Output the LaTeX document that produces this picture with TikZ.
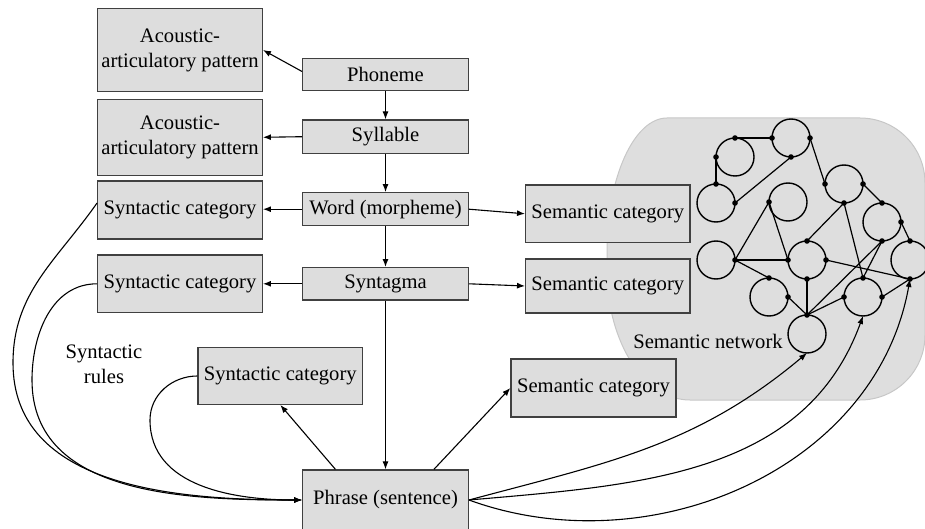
\documentclass[tikz,border=0pt]{standalone}
\usepackage{fontspec}
\setmainfont{Liberation Serif}
\usepackage{tikz}
\usetikzlibrary{calc, positioning, arrows.meta}
\definecolor{box_gray}{rgb}{0.867, 0.867, 0.867}
\definecolor{box_edge}{rgb}{0.25, 0.25, 0.25}
\definecolor{net_gray}{rgb}{0.871, 0.871, 0.871}
\definecolor{net_edge}{rgb}{0.78, 0.78, 0.78}
\tikzset{
  lingbox/.style={draw=box_edge, fill=box_gray, line width=1.3pt, inner sep=1pt, align=center},
  conn/.style={line width=1.1pt, -{Latex[length=8pt,width=6pt]}},
  ring/.style={circle, draw, line width=1.4pt, minimum size=38pt, inner sep=0pt, outer sep=0pt},
}

\begin{document}
\begin{tikzpicture}[x=1pt, y=1pt, font=\fontsize{20.6}{25}\selectfont]
        \useasboundingbox (0,0) rectangle (925,528);
        \clip (0,0) rectangle (925,528);
        \filldraw[fill=net_gray, draw=net_edge, line width=1pt] (667,410) -- (860,410) .. controls (896,410) and (925,381) .. (925,345) -- (925,193) .. controls (925,157) and (896,128) .. (860,128) -- (690,128) .. controls (644,128) and (607,186) .. (607,258) -- (607,278) .. controls (607,350) and (634,410) .. (667,410) -- cycle;

        \node[lingbox, minimum width=164.6pt, minimum height=83.4pt] (ap1) at (180,478) {Acoustic-\\articulatory pattern};
        \node[lingbox, minimum width=164.6pt, minimum height=76pt] (ap2) at (180,390.7) {Acoustic-\\articulatory pattern};
        \node[lingbox, minimum width=164.6pt, minimum height=58pt] (syn1) at (180,318) {Syntactic category};
        \node[lingbox, minimum width=164.6pt, minimum height=57.7pt] (syn2) at (180,244.2) {Syntactic category};
        \node[lingbox, minimum width=164.7pt, minimum height=56.6pt] (syn3) at (280.3,152) {Syntactic category};
        \node[lingbox, minimum width=165.6pt, minimum height=32.4pt] (phoneme) at (385.5,453.5) {Phoneme};
        \node[lingbox, minimum width=165.6pt, minimum height=33.3pt] (syllable) at (385.5,391.3) {Syllable};
        \node[lingbox, minimum width=165.6pt, minimum height=33pt] (word) at (385.5,318.8) {Word (morpheme)};
        \node[lingbox, minimum width=165.6pt, minimum height=32.3pt] (syntagma) at (385.5,244.2) {Syntagma};
        \node[lingbox, minimum width=165.6pt, minimum height=60pt] (phrase) at (385.5,28) {Phrase (sentence)};
        \node[lingbox, minimum width=164.3pt, minimum height=57.7pt] (sem1) at (607.8,314.2) {Semantic category};
        \node[lingbox, minimum width=164.3pt, minimum height=54pt] (sem2) at (607.8,242) {Semantic category};
        \node[lingbox, minimum width=165pt, minimum height=58pt] (sem3) at (593.5,140) {Semantic category};
        \node[align=center] (rules) at (104,163.3) {Syntactic\\rules};
        \node (netlabel) at (708,187) {Semantic network};

        \node[ring] (c1) at (735,371) {};
        \node[ring] (c2) at (791,390) {};
        \node[ring] (c3) at (716,325) {};
        \node[ring] (c4) at (788,326) {};
        \node[ring] (c5) at (844,344) {};
        \node[ring] (c6) at (882,306) {};
        \node[ring] (c7) at (716,268) {};
        \node[ring] (c8) at (807,268) {};
        \node[ring] (c9) at (910,268) {};
        \node[ring] (c10) at (769,231) {};
        \node[ring] (c11) at (863,231) {};
        \node[ring] (c12) at (807,194) {};
        \foreach \a/\b in {c1.north/c2.west, c1.west/c3.north, c2.south/c3.east, c2.east/c5.west, c5.east/c6.north, c6.east/c9.north, c5.south/c8.north, c5.south/c11.north, c4.west/c7.east, c4.west/c8.west, c7.east/c8.west, c7.east/c10.north, c10.east/c12.north, c8.south/c12.north, c8.east/c9.south, c12.north/c6.south, c12.north/c11.west, c11.north/c6.south, c11.east/c9.south}
            \draw[line width=1.2pt] (\a) -- (\b);
        \foreach \p in {c1.north, c1.west, c2.west, c2.east, c2.south, c3.north, c3.east, c4.west, c5.west, c5.east, c5.south, c6.north, c6.east, c6.south, c7.east, c8.north, c8.west, c8.east, c8.south, c9.north, c9.south, c10.north, c10.east, c11.north, c11.west, c11.east, c12.north}
            \fill (\p) circle (2.8pt);

        \draw[conn] ([yshift=3pt]phoneme.west) -- (ap1.east);
        \draw[conn] (syllable.west) -- (ap2.east);
        \draw[conn] (phoneme.south) -- (syllable.north);
        \draw[conn] (syllable.south) -- (word.north);
        \draw[conn] (word.south) -- (syntagma.north);
        \draw[conn] (syntagma.south) -- (phrase.north);
        \draw[conn] (word.west) -- (word.west -| syn1.east);
        \draw[conn] (syntagma.west) -- (syntagma.west -| syn2.east);
        \draw[conn] (word.east) -- (sem1.west);
        \draw[conn] (syntagma.east) -- (sem2.west);
        \draw[conn] ($(phrase.north west)!0.2!(phrase.north east)$) -- (syn3.south);
        \draw[conn] ($(phrase.north west)!0.79!(phrase.north east)$) -- (sem3.west);
        \draw[conn] ([yshift=7pt]syn1.west) to[out=235,in=90] (13,165) to[out=-90,in=180] (phrase.west);
        \draw[conn] (syn2.west) to[out=180,in=90] (32,148) to[out=-90,in=180] (phrase.west);
        \draw[conn] (syn3.west) to[out=180,in=90] (150,108) to[out=-90,in=180] (phrase.west);
        \draw[conn] (phrase.east) to[out=15,in=-140] (c12.south);
        \draw[conn] (phrase.east) to[out=5,in=-110] (c11.south);
        \draw[conn] (phrase.east) to[out=-20,in=-100] (c9.south);
    \end{tikzpicture}
\end{document}
